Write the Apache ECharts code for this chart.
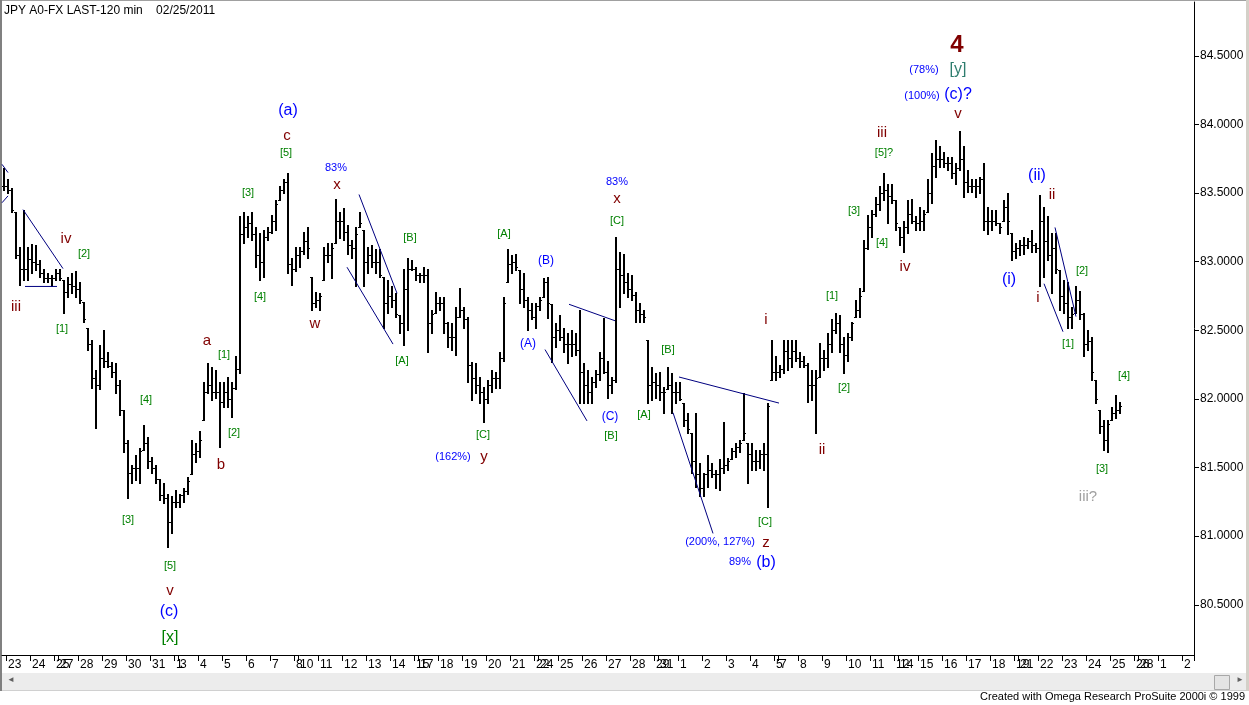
<!DOCTYPE html>
<html><head><meta charset="utf-8">
<script src="https://cdn.jsdelivr.net/npm/echarts@6/dist/echarts.min.js"></script>
<style>html,body{margin:0;padding:0;background:#fff;}#c{width:1249px;height:705px;}</style>
</head><body><div id="c"></div>
<script>
// ---- data (4-hour slots; slot 0 = tail of 22 Dec) ----
const highs = [
83.68,83.60,83.54,83.36,83.11,83.38,83.11,83.13,83.12,83.01,
82.95,82.92,82.90,82.95,82.95,82.87,82.89,82.92,82.93,82.85,
82.71,82.52,82.43,82.21,82.39,82.50,82.34,82.27,82.26,82.14,
81.92,81.70,81.52,81.59,81.64,81.81,81.72,81.58,81.52,81.42,
81.39,81.31,81.29,81.34,81.31,81.35,81.43,81.70,81.68,81.77,
82.12,82.26,82.23,82.21,82.12,82.12,82.16,82.12,82.31,83.33,
83.36,83.33,83.36,83.25,83.21,83.23,83.25,83.34,83.45,83.55,
83.60,83.65,83.03,83.11,83.11,83.22,83.25,82.89,82.78,82.77,
83.11,83.14,83.14,83.46,83.36,83.39,83.27,83.16,83.25,83.36,
83.23,83.11,83.12,83.09,83.09,82.89,82.87,82.82,82.77,82.61,
82.95,83.03,83.01,82.96,82.92,82.96,82.95,82.65,82.78,82.74,
82.74,82.56,82.55,82.67,82.81,82.67,82.60,82.27,82.26,82.16,
82.09,82.14,82.21,82.20,82.34,82.74,83.09,83.05,83.06,82.94,
82.92,82.74,82.70,82.70,82.74,82.88,82.89,82.69,82.55,82.61,
82.52,82.48,82.50,82.48,82.65,82.26,82.21,82.16,82.21,82.34,
82.59,82.28,82.16,83.18,83.07,83.06,82.92,82.90,82.78,82.70,
82.65,82.43,82.23,82.19,82.20,82.09,82.23,82.19,82.12,82.12,
81.97,81.90,81.75,81.90,81.53,81.46,81.59,81.53,81.48,81.56,
81.83,81.57,81.64,81.68,81.70,82.04,81.68,81.68,81.63,81.63,
81.68,81.97,82.43,82.31,82.25,82.43,82.43,82.43,82.43,82.34,
82.31,82.26,82.21,82.21,82.41,82.36,82.48,82.58,82.63,82.61,
82.45,82.48,82.56,82.72,82.81,83.16,83.34,83.38,83.47,83.55,
83.65,83.57,83.57,83.45,83.25,83.30,83.45,83.46,83.33,83.40,
83.38,83.60,83.79,83.89,83.84,83.80,83.76,83.76,83.72,83.95,
83.84,83.67,83.60,83.60,83.62,83.72,83.40,83.38,83.38,83.28,
83.45,83.50,83.21,83.14,83.16,83.18,83.17,83.23,83.14,83.49,
83.40,83.33,83.21,83.21,82.94,82.87,82.85,82.67,82.82,82.79,
82.63,82.50,82.45,82.14,81.92,81.85,81.85,81.94,82.03,81.98
];
const lows = [
83.52,83.50,83.36,83.03,82.83,82.87,82.87,82.92,82.94,82.89,
82.85,82.85,82.82,82.87,82.87,82.63,82.74,82.77,82.74,82.70,
82.56,82.36,82.08,81.79,82.07,82.23,82.23,82.16,82.04,81.88,
81.61,81.28,81.39,81.41,81.39,81.63,81.50,81.46,81.39,81.26,
81.24,80.92,81.02,81.21,81.21,81.25,81.31,81.45,81.54,81.58,
81.85,82.04,81.99,82.01,81.65,81.94,81.94,81.87,82.07,82.19,
83.14,83.18,83.16,82.96,82.87,82.89,83.16,83.21,83.23,83.45,
83.50,82.92,82.83,82.93,82.96,83.06,83.03,82.65,82.67,82.65,
82.87,83.00,82.88,83.14,83.17,83.16,83.06,83.03,82.82,83.25,
82.82,82.92,82.96,82.92,82.89,82.52,82.63,82.67,82.60,82.48,
82.39,82.50,82.94,82.87,82.85,82.85,82.34,82.48,82.63,82.65,
82.48,82.38,82.36,82.32,82.60,82.52,82.12,81.99,82.04,81.97,
81.83,81.97,82.05,82.08,82.08,82.28,82.85,82.92,82.94,82.70,
82.67,82.50,82.58,82.52,82.65,82.74,82.59,82.27,82.38,82.43,
82.34,82.26,82.31,82.32,81.97,81.97,81.97,81.97,82.09,82.14,
82.19,82.01,82.04,82.12,82.67,82.77,82.74,82.72,82.56,82.56,
82.56,81.97,81.99,82.01,81.99,81.90,82.07,81.90,81.97,81.99,
81.80,81.75,81.46,81.36,81.29,81.29,81.36,81.43,81.35,81.34,
81.46,81.48,81.56,81.58,81.61,81.70,81.39,81.48,81.48,81.50,
81.48,81.21,82.14,82.14,82.16,82.19,82.21,82.23,82.28,82.23,
82.23,81.98,81.99,81.75,82.16,82.21,82.23,82.34,82.48,82.34,
82.19,82.28,82.43,82.60,82.60,82.79,83.09,83.18,83.33,83.38,
83.45,83.28,83.43,83.23,83.12,83.07,83.21,83.28,83.23,83.23,
83.23,83.36,83.43,83.62,83.69,83.69,83.67,83.61,83.57,83.67,
83.47,83.51,83.51,83.47,83.50,83.23,83.20,83.23,83.27,83.21,
83.30,83.20,83.01,83.03,83.05,83.06,83.10,83.07,83.07,82.82,
82.89,83.01,82.77,82.92,82.65,82.63,82.52,82.52,82.63,82.58,
82.31,82.36,82.14,81.97,81.75,81.63,81.61,81.85,81.86,81.90
];
const closes = [
83.55,83.52,83.38,83.05,82.95,82.95,83.02,83.00,82.98,82.92,
82.88,82.88,82.88,82.92,82.88,82.78,82.84,82.82,82.80,82.72,
82.58,82.40,82.15,82.10,82.30,82.28,82.24,82.20,82.10,81.92,
81.68,81.46,81.50,81.50,81.62,81.68,81.55,81.50,81.42,81.30,
81.28,81.10,81.25,81.25,81.30,81.33,81.40,81.60,81.62,81.70,
82.05,82.10,82.05,82.05,81.98,82.05,82.00,82.08,82.22,83.20,
83.25,83.28,83.20,83.05,83.00,83.18,83.22,83.30,83.42,83.52,
83.58,82.98,82.95,83.05,83.08,83.15,83.10,82.70,82.72,82.75,
83.05,83.05,83.10,83.30,83.30,83.22,83.12,83.10,83.20,83.28,
83.00,83.05,83.00,83.00,82.90,82.70,82.75,82.72,82.62,82.55,
82.80,82.95,82.95,82.90,82.90,82.90,82.55,82.62,82.70,82.70,
82.55,82.45,82.45,82.60,82.65,82.58,82.25,82.15,82.10,82.05,
82.00,82.10,82.15,82.15,82.30,82.70,82.98,83.00,82.96,82.80,
82.72,82.65,82.60,82.68,82.72,82.85,82.70,82.45,82.50,82.45,
82.40,82.40,82.40,82.36,82.20,82.10,82.05,82.12,82.18,82.30,
82.20,82.10,82.14,82.95,82.90,82.85,82.80,82.76,82.65,82.62,
82.60,82.10,82.12,82.10,82.05,82.05,82.10,82.05,82.05,82.00,
81.85,81.78,81.55,81.45,81.35,81.45,81.48,81.45,81.45,81.50,
81.52,81.55,81.62,81.65,81.68,81.75,81.60,81.55,81.55,81.60,
81.60,81.95,82.20,82.20,82.22,82.35,82.30,82.35,82.30,82.28,
82.25,82.10,82.10,82.15,82.30,82.30,82.40,82.50,82.55,82.40,
82.32,82.45,82.55,82.65,82.75,83.10,83.25,83.35,83.42,83.50,
83.52,83.48,83.45,83.28,83.18,83.25,83.35,83.30,83.28,83.30,
83.35,83.50,83.70,83.75,83.75,83.72,83.72,83.65,83.68,83.75,
83.58,83.55,83.55,83.55,83.60,83.30,83.30,83.30,83.28,83.25,
83.40,83.30,83.08,83.10,83.12,83.12,83.15,83.12,83.10,83.30,
83.15,83.05,83.10,82.95,82.75,82.70,82.60,82.62,82.72,82.62,
82.40,82.42,82.20,82.00,81.80,81.70,81.82,81.90,81.92,81.95
];
// day tick labels (from 23 Dec) and number of 4-hour bars in each day
const dayLabels = ['23','24','25','27','28','29','30','31','1','3','4','5','6','7','8','10','11','12','13','14','15','17','18','19','20','21','22','24','25','26','27','28','29','31','1','2','3','4','5','7','8','9','10','11','12','14','15','16','17','18','19','21','22','23','24','25','26','28','1','2'];
const barsPerDay = [6,6,1, 5,6,6,6,6,1, 5,6,6,6,6,1, 5,6,6,6,6,1, 5,6,6,6,6,1, 5,6,6,6,6,1, 5,6,6,6,6,1, 5,6,6,6,6,1, 5,6,6,6,6,1, 5,6,6,6,6,1, 5,6,6];
const totalSlots = 298;
// wave annotations: [bar slot, price, text, kind]
const annotations = [
[238.25,84.58,'4','big'],[230,84.40,'(78%)','bs'],[238.5,84.40,'[y]','Y'],[229.5,84.21,'(100%)','bs'],
[238.5,84.22,'(c)?','b'],[238.5,84.08,'v','r'],[219.5,83.94,'iii','r'],[220,83.79,'[5]?','g'],
[212.5,83.37,'[3]','g'],[219.5,83.14,'[4]','g'],[225.25,82.96,'iv','r'],[258.25,83.63,'(ii)','b'],
[262,83.49,'ii','r'],[251.25,82.87,'(i)','b'],[258.5,82.74,'i','r'],[269.5,82.93,'[2]','g'],
[266,82.40,'[1]','g'],[280,82.17,'[4]','g'],[274.5,81.49,'[3]','g'],[271,81.29,'iii?','q'],
[71,84.10,'(a)','b'],[70.75,83.92,'c','r'],[70.5,83.79,'[5]','g'],[61,83.50,'[3]','g'],
[64,82.74,'[4]','g'],[83,83.68,'83%','bs'],[83.25,83.56,'x','r'],[77.75,82.55,'w','r'],
[15.5,83.17,'iv','r'],[20,83.06,'[2]','g'],[3,82.67,'iii','r'],[14.5,82.51,'[1]','g'],
[50.75,82.42,'a','r'],[55,82.32,'[1]','g'],[57.5,81.75,'[2]','g'],[54.25,81.52,'b','r'],
[35.5,81.99,'[4]','g'],[31,81.12,'[3]','g'],[41.5,80.78,'[5]','g'],[41.5,80.60,'v','r'],
[41.25,80.45,'(c)','b'],[41.5,80.26,'[x]','G'],[101.5,83.17,'[B]','g'],[99.5,82.28,'[A]','g'],
[125,83.20,'[A]','g'],[135.5,83.01,'(B)','bm'],[131,82.40,'(A)','bm'],[119.75,81.74,'[C]','g'],
[112.25,81.58,'(162%)','bs'],[120,81.58,'y','r'],[153.25,83.58,'83%','bs'],[153.25,83.46,'x','r'],
[153.25,83.30,'[C]','g'],[151.5,81.87,'(C)','bm'],[151.75,81.73,'[B]','g'],[166,82.36,'[B]','g'],
[160,81.88,'[A]','g'],[190.5,82.58,'i','r'],[204.5,81.63,'ii','r'],[207,82.75,'[1]','g'],
[210,82.08,'[2]','g'],[190.25,81.10,'[C]','g'],[179,80.96,'(200%, 127%)','bs'],[190.5,80.95,'z','r'],
[184,80.81,'89%','bs'],[190.5,80.81,'(b)','b']
];
// trend lines: [slot1, price1, slot2, price2]
const trendLines = [
[-0.5,83.71,1,83.65],[-0.5,83.43,1,83.48],[4.75,83.38,14.75,82.95],[5.25,82.82,13.25,82.82],
[88.75,83.49,98.25,82.77],[85.75,82.96,97.25,82.40],[135.25,82.36,145.75,81.84],
[141.25,82.69,152.75,82.57],[168.75,82.16,193.75,81.97],[167.25,81.90,177.25,81.02],
[262.75,83.25,268,82.60],[260,82.84,264.75,82.49]
];

// ---- build ----
const cats = new Array(totalSlots).fill('');
let s = 1;
dayLabels.forEach((d, i) => { if (s < totalSlots) cats[s] = d; s += barsPerDay[i]; });

const ohlc = highs.map((h, i) => {
  const o = i > 0 ? closes[i - 1] : closes[i];
  return [i, Math.min(h, Math.max(lows[i], o)), closes[i], lows[i], h];
});

const FONT = '"Liberation Sans", Arial, sans-serif';
const kinds = {
  r: {c: '#800000', s: 15, w: 'normal'},
  g: {c: '#008000', s: 11, w: 'normal'},
  G: {c: '#008000', s: 16, w: 'normal'},
  Y: {c: '#2e7d6e', s: 16, w: 'normal'},
  b: {c: '#0000ff', s: 16, w: 'normal'},
  bm: {c: '#0000ff', s: 12, w: 'normal'},
  bs: {c: '#0000ff', s: 11, w: 'normal'},
  q: {c: '#a0a0a0', s: 15, w: 'normal'},
  big: {c: '#800000', s: 24, w: 'bold'}
};

const chart = echarts.init(document.getElementById('c'), null, {renderer: 'canvas'});
chart.setOption({
  animation: false,
  backgroundColor: '#fff',
  grid: {left: 2, right: 55, top: 2, bottom: 50, containLabel: false},
  xAxis: [{
    type: 'category', data: cats, position: 'bottom', boundaryGap: true,
    axisLine: {show: true, onZero: false, lineStyle: {color: '#000', width: 1}},
    axisTick: {show: true, length: 6, interval: (i, v) => v !== '', lineStyle: {color: '#000'}},
    axisLabel: {show: true, interval: (i, v) => v !== '', align: 'left', margin: 4, color: '#000', fontSize: 12, fontFamily: FONT, hideOverlap: false},
    splitLine: {show: false}
  }, {
    type: 'value', min: -0.5, max: totalSlots - 0.5, show: false,
    axisLine: {onZero: false}
  }],
  yAxis: [{
    type: 'value', position: 'right', min: 80.134, max: 84.893, splitNumber: 10, scale: true,
    axisLine: {show: true, onZero: false, lineStyle: {color: '#000', width: 1}},
    axisTick: {show: true, length: 5, lineStyle: {color: '#000'}},
    axisLabel: {show: true, margin: 6, color: '#000', fontSize: 12, fontFamily: FONT,
      showMinLabel: false, showMaxLabel: false, formatter: v => v.toFixed(4)},
    splitLine: {show: false}
  }],
  series: [{
    type: 'custom', xAxisIndex: 1, yAxisIndex: 0, clip: false,
    data: ohlc, encode: {x: 0, y: [3, 4]},
    renderItem: (params, api) => {
      const x = api.value(0);
      const pH = api.coord([x, api.value(4)]);
      const pL = api.coord([x, api.value(3)]);
      const pO = api.coord([x, api.value(1)]);
      const pC = api.coord([x, api.value(2)]);
      const cx = Math.round(pH[0]);
      const yo = Math.round(pO[1]) + 0.5, yc = Math.round(pC[1]) + 0.5;
      const st = {stroke: '#000', lineWidth: 1};
      return {type: 'group', children: [
        {type: 'rect', shape: {x: cx - 1, y: Math.round(pH[1]), width: 2, height: Math.max(1, Math.round(pL[1]) - Math.round(pH[1]) + 1)}, style: {fill: '#000'}},
        {type: 'line', shape: {x1: cx - 2, y1: yo, x2: cx, y2: yo}, style: st},
        {type: 'line', shape: {x1: cx, y1: yc, x2: cx + 2, y2: yc}, style: st}
      ]};
    }
  }, {
    type: 'custom', xAxisIndex: 1, yAxisIndex: 0, clip: false,
    data: trendLines, encode: {x: [0, 2], y: [1, 3]},
    renderItem: (params, api) => {
      const a = api.coord([api.value(0), api.value(1)]);
      const b = api.coord([api.value(2), api.value(3)]);
      return {type: 'line', shape: {x1: a[0], y1: a[1], x2: b[0], y2: b[1]}, style: {stroke: '#000080', lineWidth: 1}};
    }
  }, {
    type: 'custom', xAxisIndex: 1, yAxisIndex: 0, clip: false,
    data: annotations.map(a => [a[0], a[1]]), encode: {x: 0, y: 1},
    renderItem: (params, api) => {
      const a = annotations[params.dataIndex];
      const k = kinds[a[3]];
      const p = api.coord([api.value(0), api.value(1)]);
      return {type: 'text', x: p[0], y: p[1], style: {text: a[2], fill: k.c,
        font: k.w + ' ' + k.s + 'px ' + FONT, align: 'center', verticalAlign: 'middle'}};
    }
  }],
  graphic: [
    {type: 'rect', left: 0, top: 0, shape: {width: 1249, height: 1}, style: {fill: '#a0a0a0'}, silent: true},
    {type: 'rect', left: 0, top: 0, shape: {width: 2, height: 691}, style: {fill: '#808080'}, silent: true},
    {type: 'rect', left: 1246, top: 0, shape: {width: 3, height: 691}, style: {fill: '#d4d0c8'}, silent: true},
    {type: 'rect', left: 2, top: 673, shape: {width: 1244, height: 17}, style: {fill: '#ececec'}, silent: true},
    {type: 'rect', left: 2, top: 690, shape: {width: 1244, height: 1}, style: {fill: '#d0d0d0'}, silent: true},
    {type: 'text', left: 7, top: 676, style: {text: '◄', fill: '#606060', font: '8px ' + FONT}, silent: true},
    {type: 'rect', left: 1214, top: 675, shape: {width: 15, height: 14}, style: {fill: '#e4e4e4', stroke: '#a8a8a8', lineWidth: 1}, silent: true},
    {type: 'text', left: 1236, top: 676, style: {text: '►', fill: '#606060', font: '8px ' + FONT}, silent: true},
    {type: 'text', left: 4, top: 5, style: {text: 'JPY A0-FX LAST-120 min    02/25/2011', fill: '#000', font: '12px ' + FONT}, silent: true},
    {type: 'text', right: 4, top: 691, style: {text: 'Created with Omega Research ProSuite 2000i © 1999', fill: '#000', font: '11px ' + FONT}, silent: true}
  ]
});
</script>
</body></html>
